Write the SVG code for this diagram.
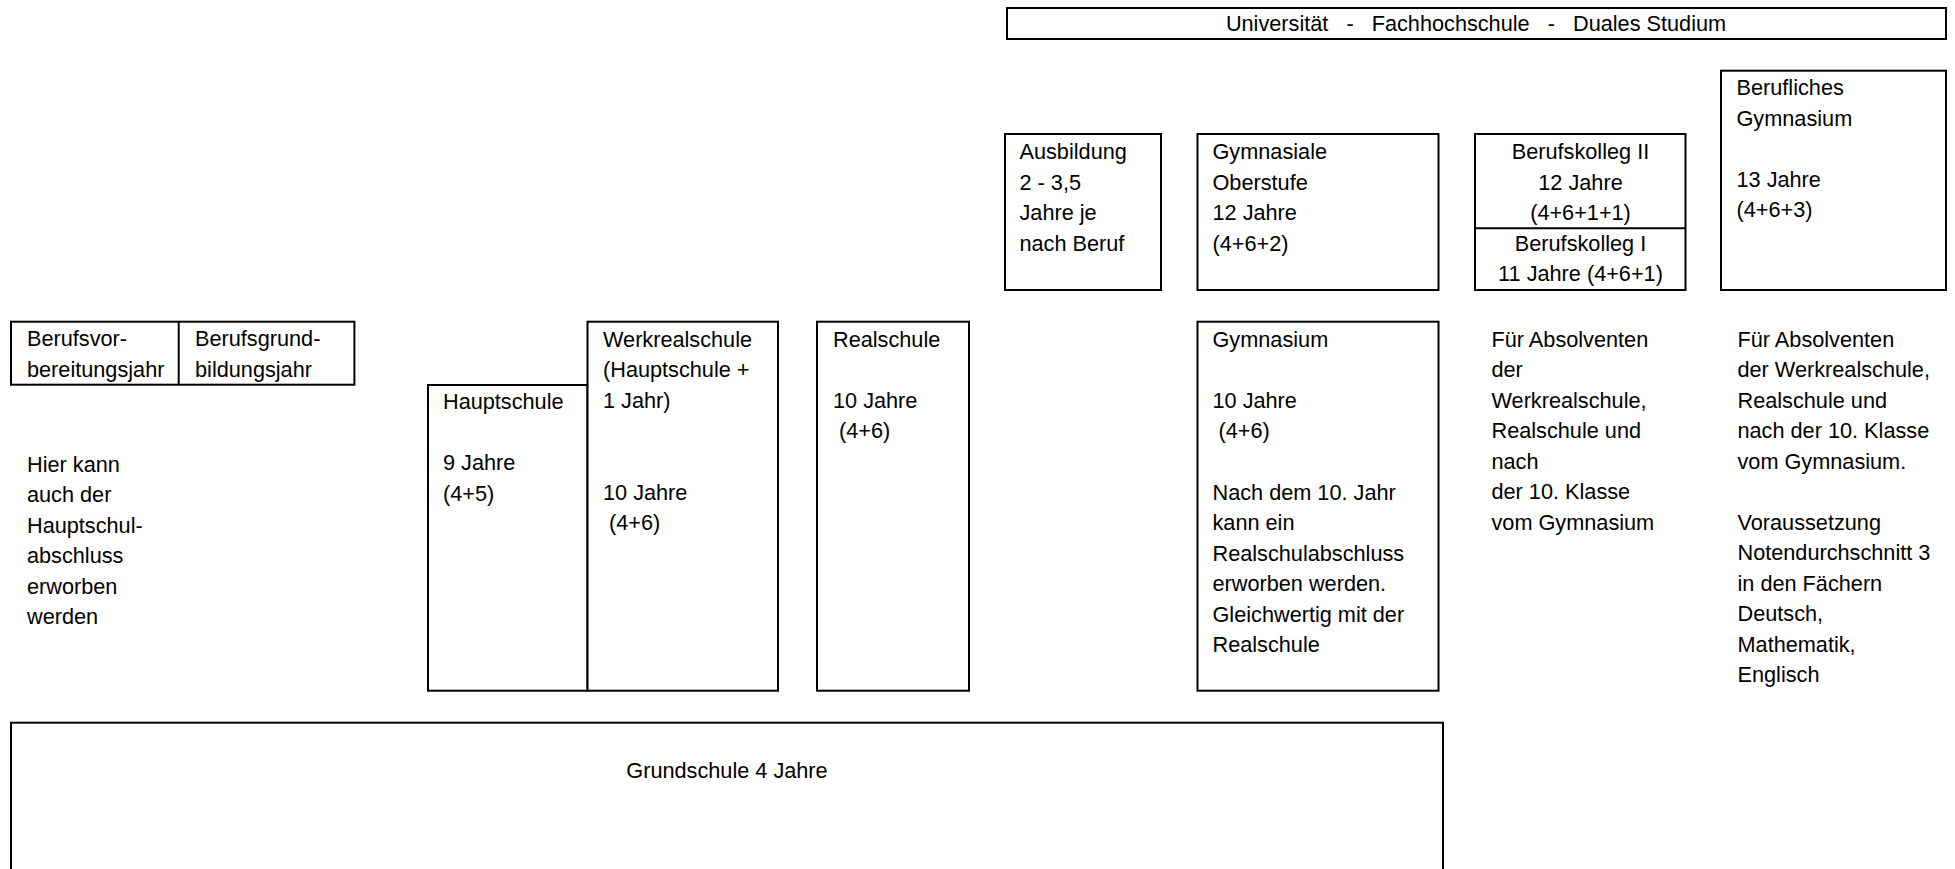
<svg xmlns="http://www.w3.org/2000/svg" width="1955" height="869" viewBox="0 0 1955 869">
<style>
  .box { fill: #ffffff; stroke: #000000; stroke-width: 2; }
  .ln { stroke: #000000; stroke-width: 2; fill: none; }
  text { font-family: "Liberation Sans", Arial, sans-serif; font-size: 21.7px; fill: #000000; white-space: pre; }
  .c { text-anchor: middle; }
</style>
<rect width="1955" height="869" fill="#ffffff"/>
<g id="connectors"></g>

<g id="uni">
  <rect class="box" x="1007" y="8" width="939" height="31"/>
  <text class="c" x="1476" y="31">Universität   -   Fachhochschule   -   Duales Studium</text>
</g>

<g id="ausbildung">
  <rect class="box" x="1005" y="134" width="156" height="156"/>
  <text x="1019.5" y="159">Ausbildung<tspan x="1019.5" y="189.5">2 - 3,5</tspan><tspan x="1019.5" y="220">Jahre je</tspan><tspan x="1019.5" y="250.5">nach Beruf</tspan></text>
</g>

<g id="gym-oberstufe">
  <rect class="box" x="1197.5" y="134" width="241" height="156"/>
  <text x="1212.5" y="159">Gymnasiale<tspan x="1212.5" y="189.5">Oberstufe</tspan><tspan x="1212.5" y="220">12 Jahre</tspan><tspan x="1212.5" y="250.5">(4+6+2)</tspan></text>
</g>

<g id="berufskolleg">
  <rect class="box" x="1475" y="134" width="210.5" height="156"/>
  <line class="ln" x1="1475" y1="228.3" x2="1685.5" y2="228.3"/>
  <text class="c" x="1580.5" y="159">Berufskolleg II<tspan x="1580.5" y="189.5">12 Jahre</tspan><tspan x="1580.5" y="220">(4+6+1+1)</tspan></text>
  <text class="c" x="1580.5" y="250.5">Berufskolleg I<tspan x="1580.5" y="281">11 Jahre (4+6+1)</tspan></text>
</g>

<g id="beruf-gym">
  <rect class="box" x="1721" y="70.7" width="225" height="219.3"/>
  <text x="1736.5" y="95">Berufliches<tspan x="1736.5" y="125.5">Gymnasium</tspan><tspan x="1736.5" y="186.5">13 Jahre</tspan><tspan x="1736.5" y="217">(4+6+3)</tspan></text>
</g>

<g id="berufsvor">
  <rect class="box" x="11" y="321.7" width="343.4" height="63"/>
  <line class="ln" x1="178.7" y1="321.7" x2="178.7" y2="384.7"/>
  <text x="27" y="345.5">Berufsvor-<tspan x="27" y="377">bereitungsjahr</tspan></text>
  <text x="195" y="345.5">Berufsgrund-<tspan x="195" y="377">bildungsjahr</tspan></text>
</g>

<g id="hier-kann">
  <text x="27" y="471.5">Hier kann<tspan x="27" y="502">auch der</tspan><tspan x="27" y="532.5">Hauptschul-</tspan><tspan x="27" y="563">abschluss</tspan><tspan x="27" y="593.5">erworben</tspan><tspan x="27" y="624">werden</tspan></text>
</g>

<g id="hauptschule">
  <rect class="box" x="428" y="385" width="159.5" height="305.7"/>
  <text x="443" y="409">Hauptschule<tspan x="443" y="470">9 Jahre</tspan><tspan x="443" y="500.5">(4+5)</tspan></text>
</g>

<g id="werkrealschule">
  <rect class="box" x="587.5" y="321.7" width="190.5" height="369"/>
  <text x="603" y="346.7">Werkrealschule<tspan x="603" y="377.2">(Hauptschule +</tspan><tspan x="603" y="407.7">1 Jahr)</tspan><tspan x="603" y="499.5">10 Jahre</tspan><tspan x="603" y="530"> (4+6)</tspan></text>
</g>

<g id="realschule">
  <rect class="box" x="817" y="321.7" width="152" height="369"/>
  <text x="833" y="346.7">Realschule<tspan x="833" y="407.7">10 Jahre</tspan><tspan x="833" y="438.2"> (4+6)</tspan></text>
</g>

<g id="gymnasium">
  <rect class="box" x="1197.5" y="321.7" width="241" height="369"/>
  <text x="1212.5" y="346.7">Gymnasium<tspan x="1212.5" y="407.7">10 Jahre</tspan><tspan x="1212.5" y="438.2"> (4+6)</tspan><tspan x="1212.5" y="499.5">Nach dem 10. Jahr</tspan><tspan x="1212.5" y="530">kann ein</tspan><tspan x="1212.5" y="560.5">Realschulabschluss</tspan><tspan x="1212.5" y="591">erworben werden.</tspan><tspan x="1212.5" y="621.5">Gleichwertig mit der</tspan><tspan x="1212.5" y="652">Realschule</tspan></text>
</g>

<g id="bk-absolventen">
  <text x="1491.5" y="346.7">Für Absolventen<tspan x="1491.5" y="377.2">der</tspan><tspan x="1491.5" y="407.7">Werkrealschule,</tspan><tspan x="1491.5" y="438.2">Realschule und</tspan><tspan x="1491.5" y="468.7">nach</tspan><tspan x="1491.5" y="499.2">der 10. Klasse</tspan><tspan x="1491.5" y="529.7">vom Gymnasium</tspan></text>
</g>

<g id="bg-absolventen">
  <text x="1737.5" y="346.7">Für Absolventen<tspan x="1737.5" y="377.2">der Werkrealschule,</tspan><tspan x="1737.5" y="407.7">Realschule und</tspan><tspan x="1737.5" y="438.2">nach der 10. Klasse</tspan><tspan x="1737.5" y="468.7">vom Gymnasium.</tspan><tspan x="1737.5" y="529.7">Voraussetzung</tspan><tspan x="1737.5" y="560.2">Notendurchschnitt 3</tspan><tspan x="1737.5" y="590.7">in den Fächern</tspan><tspan x="1737.5" y="621.2">Deutsch,</tspan><tspan x="1737.5" y="651.7">Mathematik,</tspan><tspan x="1737.5" y="682.2">Englisch</tspan></text>
</g>

<g id="grundschule">
  <rect class="box" x="11" y="722.7" width="1432" height="170"/>
  <text class="c" x="727" y="778.3">Grundschule 4 Jahre</text>
</g>
</svg>
